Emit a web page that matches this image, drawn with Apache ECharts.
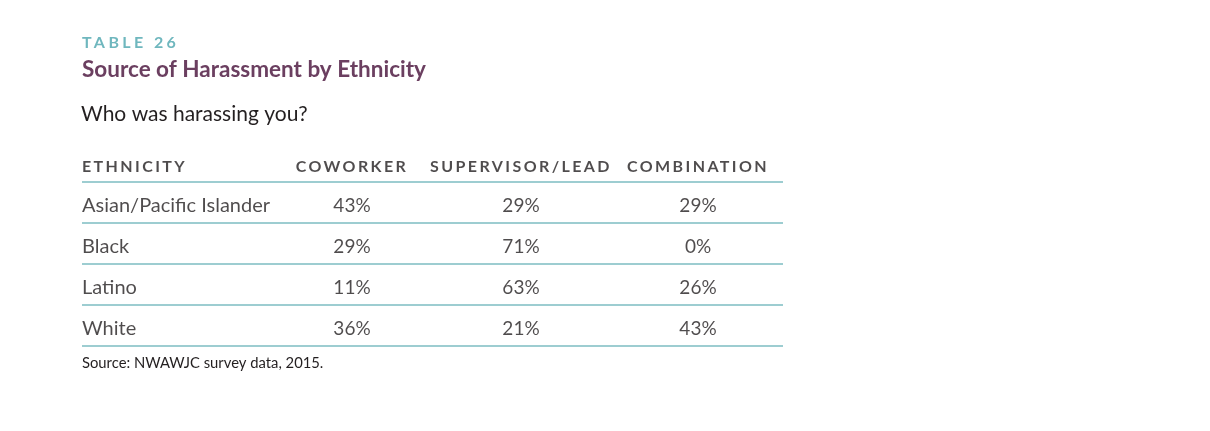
<!DOCTYPE html>
<html>
<head>
<meta charset="utf-8">
<script src="https://cdn.jsdelivr.net/npm/echarts@6/dist/echarts.min.js"></script>
<style>
  html, body { margin: 0; padding: 0; background: #fff; }
  #chart { width: 1210px; height: 431px; }
</style>
</head>
<body>
<div id="chart"></div>
<script>
const columns = ['ETHNICITY', 'COWORKER', 'SUPERVISOR/LEAD', 'COMBINATION'];
const ethnicities = ['Asian/Pacific Islander', 'Black', 'Latino', 'White'];
const coworker = [43, 29, 11, 36];
const supervisor = [29, 71, 63, 21];
const combination = [29, 0, 26, 43];

// layout: column anchors in grid pixels (grid is 701px wide)
const colX = [0, 270, 439, 616];
const HEADER = 'header';

const ink = '#231f20';
const teal = '#7dbdc2';
const font = 'Lato';

// the caps headings are tracked out; zrender has no letterSpacing so set it on the canvas
const tracking = {'TABLE 26': '3.4px'};
columns.forEach(c => tracking[c] = '2.4px');
const baseFillText = CanvasRenderingContext2D.prototype.fillText;
CanvasRenderingContext2D.prototype.fillText = function (text) {
    const spacing = tracking[text] || '0px';
    if ('letterSpacing' in this && this.letterSpacing !== spacing) {
        const f = this.font;
        this.letterSpacing = spacing;
        this.font = '10px sans-serif';
        this.font = f;
    }
    return baseFillText.apply(this, arguments);
};

const chart = echarts.init(document.getElementById('chart'));

function cellSeries(values, col) {
    return {
        type: 'scatter',
        symbolSize: 0,
        silent: true,
        data: values.map((v, i) => [colX[col], ethnicities[i], v]),
        label: {
            show: true,
            position: 'inside',
            offset: [0, 3],
            formatter: p => p.value[2] + '%',
            color: ink,
            fontFamily: font,
            fontSize: 19
        }
    };
}

const option = {
    backgroundColor: '#fff',
    animation: false,
    title: [
        {
            text: 'TABLE 26', left: 82, top: 35, padding: 0,
            textStyle: {color: '#6fb7be', fontFamily: font, fontWeight: 'bold', fontSize: 16}
        },
        {
            text: 'Source of Harassment by Ethnicity', left: 82, top: 58, padding: 0,
            textStyle: {color: '#6b3f60', fontFamily: font, fontWeight: 'bold', fontSize: 22.5}
        },
        {
            text: 'Who was harassing you?', left: 81, top: 104, padding: 0,
            textStyle: {color: ink, fontFamily: font, fontWeight: 'normal', fontSize: 21}
        },
        {
            text: 'Source: NWAWJC survey data, 2015.', left: 82, top: 356, padding: 0,
            textStyle: {color: ink, fontFamily: font, fontWeight: 'normal', fontSize: 14.8}
        }
    ],
    grid: {left: 82, right: 427, top: 141, bottom: 85},
    xAxis: {
        type: 'value', min: 0, max: 701, show: false
    },
    yAxis: {
        type: 'category',
        inverse: true,
        data: [HEADER].concat(ethnicities),
        axisLine: {show: false},
        axisTick: {show: false},
        axisLabel: {show: false},
        splitLine: {
            show: true,
            showMinLine: false,
            lineStyle: {color: teal, width: 1.5}
        }
    },
    series: [
        {
            type: 'scatter',
            symbolSize: 0,
            silent: true,
            data: columns.map((c, i) => ({value: [colX[i], HEADER], name: c})),
            label: {
                show: true,
                position: 'inside',
                offset: [0, 5],
                formatter: p => p.name,
                color: ink,
                fontFamily: font,
                fontWeight: 'bold',
                fontSize: 16,
                align: 'center'
            }
        },
        {
            type: 'scatter',
            symbolSize: 0,
            silent: true,
            data: ethnicities.map(e => ({value: [colX[0], e], name: e})),
            label: {
                show: true,
                position: 'inside',
                offset: [0, 3],
                align: 'left',
                formatter: p => p.name,
                color: ink,
                fontFamily: font,
                fontSize: 20
            }
        },
        cellSeries(coworker, 1),
        cellSeries(supervisor, 2),
        cellSeries(combination, 3)
    ]
};

// header of the first column is left aligned
option.series[0].data[0].label = {align: 'left'};

chart.setOption(option);
</script>
</body>
</html>
